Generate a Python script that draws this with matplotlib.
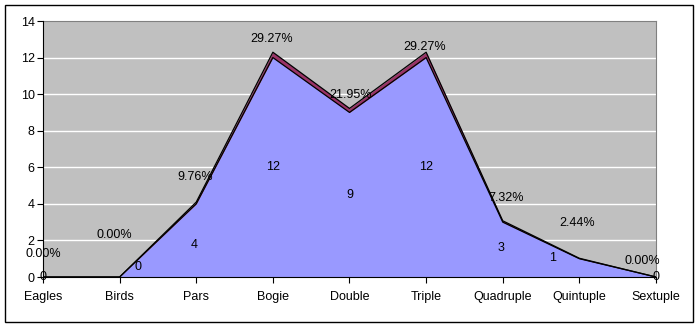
import matplotlib
matplotlib.use("Agg")
import matplotlib.pyplot as plt
from matplotlib.patches import Rectangle
import numpy as np

categories = ["Eagles", "Birds", "Pars", "Bogie", "Double", "Triple", "Quadruple", "Quintuple", "Sextuple"]
counts = [0, 0, 4, 12, 9, 12, 3, 1, 0]
pct_labels = ["0.00%", "0.00%", "9.76%", "29.27%", "21.95%", "29.27%", "7.32%", "2.44%", "0.00%"]
fractions = [0.0, 0.0, 0.0976, 0.2927, 0.2195, 0.2927, 0.0732, 0.0244, 0.0]

# label offsets in pixels (layout only)
count_off = [(0, 0), (18, 10), (-2, -5), (0, 0), (0, 0), (0, 0), (-2, 2), (-27, 10), (0, 0)]
pct_off = [(0, 23), (-5, 42), (-1, 25), (-1, 13), (1, 13), (-1, 5), (3, 23), (-2, 35), (-14, 16)]

plt.rcParams['font.family'] = ['Liberation Sans', 'DejaVu Sans']

fig = plt.figure(figsize=(7, 3.27), dpi=100)
fig.patches.append(Rectangle((5/700, 5/327), 688/700, 317/327, transform=fig.transFigure,
                             fill=False, edgecolor='black', linewidth=1))
ax = fig.add_axes([43/700, 1 - 277/327, 613/700, 256/327])
ax.set_facecolor('#C0C0C0')

x = np.arange(len(categories))
c = np.array(counts, dtype=float)
f = np.array(fractions)
top = c + f

ax.fill_between(x, 0, c, color='#9999FF', linewidth=0, zorder=2)
ax.fill_between(x, c, top, color='#993366', linewidth=0, zorder=2)
ax.plot(x, c, color='black', linewidth=0.9, zorder=3)
ax.plot(x, top, color='black', linewidth=0.9, zorder=3)

ax.set_xlim(0, len(categories) - 1)
ax.set_ylim(0, 14)
ax.set_yticks(np.arange(0, 15, 2))
ax.set_xticks(x)
ax.set_xticklabels(categories, fontsize=9)
ax.tick_params(axis='y', labelsize=9, length=4, direction='out', pad=2)
ax.tick_params(axis='x', length=4, direction='out', pad=6)
for yv in range(2, 14, 2):
    ax.axhline(yv, color='white', linewidth=1, zorder=1)
for s in ['top', 'right']:
    ax.spines[s].set_color('#808080')
for s in ['left', 'bottom']:
    ax.spines[s].set_color('black')
    ax.spines[s].set_zorder(4)

for i in range(len(categories)):
    ax.annotate(str(counts[i]), (x[i], c[i] / 2), xytext=count_off[i], textcoords='offset pixels',
                ha='center', va='center', fontsize=9, zorder=5, annotation_clip=False)
    ax.annotate(pct_labels[i], (x[i], top[i]), xytext=pct_off[i], textcoords='offset pixels',
                ha='center', va='center', fontsize=9, zorder=5, annotation_clip=False)

fig.savefig("out.png", dpi=100)
